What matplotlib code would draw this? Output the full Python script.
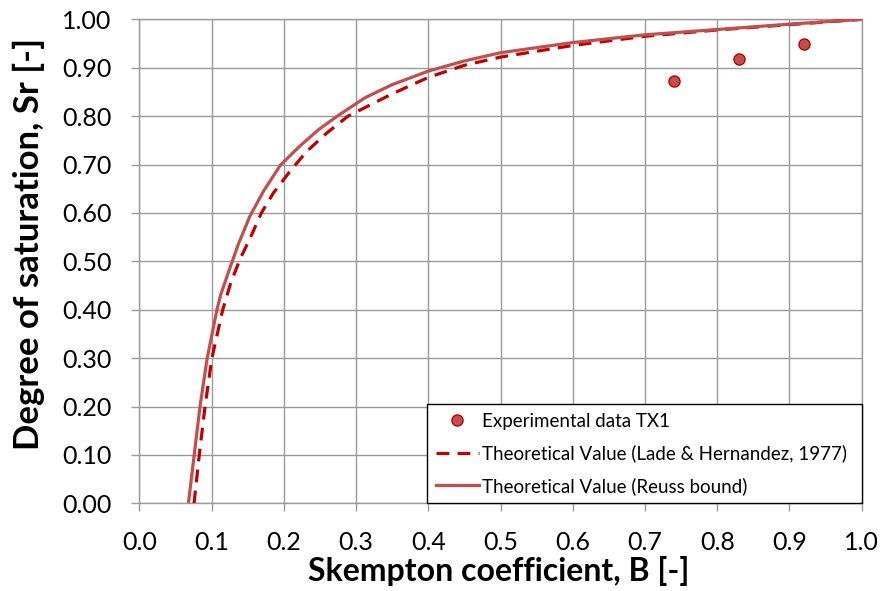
import matplotlib
matplotlib.use("Agg")
import matplotlib.pyplot as plt

# Experimental points (Skempton B, degree of saturation Sr)
exp_b = [0.74, 0.83, 0.92]
exp_sr = [0.872, 0.919, 0.948]

# Theoretical curve, Lade & Hernandez (1977)
lade_b = [0.0758, 0.083, 0.091, 0.1005, 0.1155, 0.1265, 0.139, 0.1556, 0.169,
          0.1855, 0.2086, 0.2317, 0.2594, 0.289, 0.350, 0.400, 0.450, 0.500,
          0.600, 0.700, 0.800, 0.900, 1.000]
lade_sr = [0.000, 0.100, 0.200, 0.300, 0.400, 0.455, 0.503, 0.555, 0.600,
           0.641, 0.686, 0.727, 0.765, 0.800, 0.846, 0.880, 0.905, 0.922,
           0.946, 0.965, 0.978, 0.989, 1.000]

# Theoretical curve, Reuss bound
reuss_b = [0.068, 0.076, 0.084, 0.094, 0.1075, 0.1125, 0.123, 0.137, 0.153,
           0.172, 0.195, 0.220, 0.248, 0.276, 0.3125, 0.350, 0.400, 0.450,
           0.500, 0.600, 0.700, 0.800, 0.900, 1.000]
reuss_sr = [0.000, 0.100, 0.200, 0.300, 0.400, 0.430, 0.476, 0.535, 0.593,
            0.645, 0.698, 0.735, 0.772, 0.802, 0.838, 0.865, 0.893, 0.914,
            0.931, 0.952, 0.968, 0.979, 0.990, 1.000]

x_ticks = [0.0, 0.1, 0.2, 0.3, 0.4, 0.5, 0.6, 0.7, 0.8, 0.9, 1.0]
y_ticks = [0.0, 0.1, 0.2, 0.3, 0.4, 0.5, 0.6, 0.7, 0.8, 0.9, 1.0]
x_labels = [f"{v:.1f}" for v in x_ticks]
y_labels = [f"{v:.2f}" for v in y_ticks]

plt.rcParams["font.family"] = ["Lato", "DejaVu Sans"]

fig = plt.figure(figsize=(8.85, 5.91), dpi=100)
ax = fig.add_axes([0.1574, 0.1484, 0.8163, 0.8189])

grid_col = "#9a9a9a"
ax.set_xlim(0, 1)
ax.set_ylim(0, 1)
ax.set_xticks(x_ticks)
ax.set_xticklabels(x_labels)
ax.set_yticks(y_ticks)
ax.set_yticklabels(y_labels)
ax.grid(True, color=grid_col, linewidth=1.0)
ax.set_axisbelow(True)
for s in ax.spines.values():
    s.set_color(grid_col)
    s.set_linewidth(1.0)
ax.tick_params(axis="both", direction="out", length=6, width=1.0,
               color=grid_col, labelsize=18, labelcolor="black")
ax.tick_params(axis="x", pad=14)
ax.tick_params(axis="y", pad=14)

ax.plot(exp_b, exp_sr, linestyle="none", marker="o", markersize=8,
        markerfacecolor="#C0504D", markeredgecolor="#C00000",
        markeredgewidth=1.0, label="Experimental data TX1", zorder=4)
ax.plot(lade_b, lade_sr, color="#C00000", linewidth=2.3,
        dashes=(4, 2.6), label="Theoretical Value (Lade & Hernandez, 1977)",
        zorder=3)
ax.plot(reuss_b, reuss_sr, color="#C0504D", linewidth=2.3,
        label="Theoretical Value (Reuss bound)", zorder=3)

ax.set_xlabel("Skempton coefficient, B [-]", fontsize=23, fontweight="bold")
ax.set_ylabel("Degree of saturation, Sr [-]", fontsize=25, fontweight="bold")
ax.xaxis.set_label_coords(0.497, -0.108)
ax.yaxis.set_label_coords(-0.13, 0.536)

leg = ax.legend(loc="lower right", bbox_to_anchor=(0.3987, 0.0, 0.6013, 0.201),
                mode="expand", fontsize=13.5, frameon=True, fancybox=False,
                edgecolor="black", framealpha=1.0, borderaxespad=0.0,
                handlelength=2.3, handletextpad=0.15, labelspacing=0.78,
                borderpad=0.45)
leg.get_frame().set_linewidth(1.0)

fig.savefig("out.png", dpi=100)
